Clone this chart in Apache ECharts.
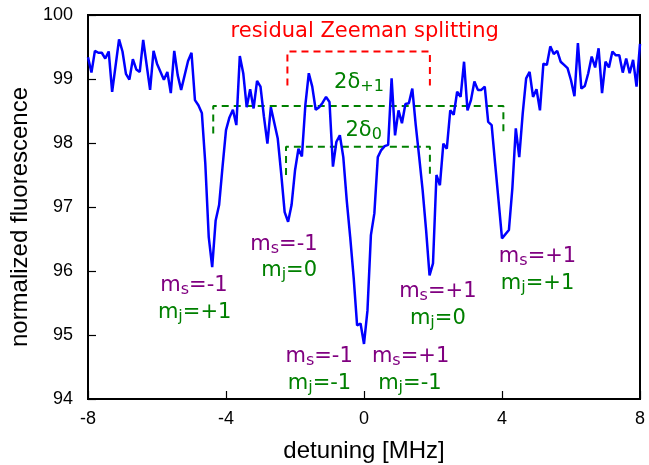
<!DOCTYPE html>
<html>
<head>
<meta charset="utf-8">
<script src="https://cdn.jsdelivr.net/npm/echarts@6/dist/echarts.min.js"></script>
<style>
  html, body { margin: 0; padding: 0; background: #fff; }
  #chart { width: 649px; height: 465px; }
</style>
</head>
<body>
<div id="chart"></div>
<script>
// Fluorescence scan across the hyperfine dips (detuning in MHz)
const detuning = [
  -8.0, -7.9, -7.8, -7.7, -7.6, -7.5, -7.4, -7.3, -7.1, -7.0, -6.9, -6.8, -6.7, -6.6, -6.5, -6.4,
  -6.2, -6.1, -6.0, -5.8, -5.7, -5.6, -5.5, -5.4, -5.3, -5.1, -5.0, -4.9, -4.8, -4.7, -4.6, -4.5,
  -4.4, -4.3, -4.2, -4.1, -4.0, -3.9, -3.8, -3.7, -3.6, -3.5, -3.4, -3.3, -3.2, -3.1, -3.0, -2.9,
  -2.8, -2.7, -2.5, -2.4, -2.3, -2.2, -2.1, -2.0, -1.9, -1.8, -1.7, -1.6, -1.5, -1.4, -1.3, -1.2,
  -1.1, -1.0, -0.9, -0.8, -0.7, -0.6, -0.5, -0.4, -0.3, -0.2, -0.1, 0.0, 0.1, 0.2, 0.3, 0.4,
  0.5, 0.6, 0.7, 0.8, 0.9, 1.0, 1.1, 1.2, 1.3, 1.4, 1.5, 1.6, 1.7, 1.8, 1.9, 2.0,
  2.1, 2.2, 2.3, 2.4, 2.5, 2.6, 2.7, 2.8, 2.9, 3.0, 3.1, 3.2, 3.3, 3.4, 3.5, 3.6,
  3.7, 3.8, 3.9, 4.0, 4.2, 4.3, 4.4, 4.5, 4.6, 4.7, 4.8, 4.9, 5.0, 5.1, 5.2, 5.3,
  5.4, 5.5, 5.6, 5.7, 5.8, 5.9, 6.0, 6.1, 6.2, 6.3, 6.4, 6.5, 6.6, 6.7, 6.8, 6.9,
  7.0, 7.1, 7.2, 7.3, 7.4, 7.5, 7.6, 7.7, 7.8, 7.9, 8.0
];
const fluorescence = [
  99.34, 99.10, 99.44, 99.41, 99.41, 99.32, 99.43, 98.80, 99.62, 99.43, 99.08, 98.99, 99.31, 99.15, 99.11, 99.61,
  98.83, 99.44, 99.24, 98.99, 99.11, 98.78, 99.44, 99.06, 98.83, 99.28, 99.41, 98.67, 98.59, 98.47, 97.68, 96.53,
  96.06, 96.79, 97.03, 97.63, 98.20, 98.40, 98.52, 98.28, 99.36, 99.09, 98.56, 98.84, 98.54, 98.97, 98.88, 98.41,
  97.99, 98.56, 98.07, 97.52, 96.92, 96.77, 97.03, 97.57, 97.91, 97.79, 98.59, 99.09, 98.88, 98.52, 98.56, 98.63,
  98.72, 98.64, 97.63, 98.02, 98.12, 97.78, 97.10, 96.53, 95.90, 95.15, 95.18, 94.86, 95.38, 96.56, 96.90, 97.78,
  97.89, 97.95, 97.97, 99.01, 98.12, 98.51, 98.31, 98.61, 98.62, 98.85, 98.28, 97.78, 97.26, 96.64, 95.93, 96.12,
  97.50, 97.34, 97.99, 97.91, 98.51, 98.44, 98.80, 98.72, 99.27, 98.51, 98.67, 98.96, 98.83, 98.83, 98.88, 98.33,
  98.28, 97.68, 97.10, 96.51, 96.64, 97.29, 98.23, 97.78, 98.46, 99.01, 99.11, 98.72, 98.84, 98.51, 99.24, 99.22,
  99.51, 99.39, 99.44, 99.27, 99.22, 99.17, 98.98, 98.73, 99.56, 98.85, 98.89, 99.09, 99.35, 99.18, 99.48, 98.78,
  99.27, 99.18, 99.43, 99.37, 99.37, 99.10, 99.32, 99.09, 99.30, 98.88, 99.55
];

// Splitting brackets: [left dip, right dip] detuning, bar level, foot level
const zeemanSplit = [-2.22, 1.91];
const zeemanLevels = [99.43, 98.90];
const delta1Split = [-4.37, 4.04];
const delta1Levels = [98.58, 98.15];
const delta0Split = [-2.26, 1.91];
const delta0Levels = [97.94, 97.50];

// Axis ranges and ticks
const xRange = [-8, 8];
const xStep = 4;
const yRange = [94, 100];
const yStep = 1;

const RED = '#ff0000';
const GREEN = '#008000';
const PURPLE = '#800080';
const BLUE = '#0000ff';

// Text annotations anchored in data coordinates
const annotations = [
  { text: '{n|residual Zeeman splitting}', at: [0.02, 99.74], color: RED },
  { text: '{n|2δ}{s|+1}', at: [-0.145, 98.94], color: GREEN },
  { text: '{n|2δ}{s|0}', at: [-0.01, 98.20], color: GREEN },
  { text: '{n|m}{s|s}{n|=-1}', at: [-4.93, 95.77], color: PURPLE },
  { text: '{n|m}{s|j}{n|=+1}', at: [-4.91, 95.35], color: GREEN },
  { text: '{n|m}{s|s}{n|=-1}', at: [-2.32, 96.42], color: PURPLE },
  { text: '{n|m}{s|j}{n|=0}', at: [-2.17, 96.01], color: GREEN },
  { text: '{n|m}{s|s}{n|=-1}', at: [-1.30, 94.66], color: PURPLE },
  { text: '{n|m}{s|j}{n|=-1}', at: [-1.29, 94.24], color: GREEN },
  { text: '{n|m}{s|s}{n|=+1}', at: [1.35, 94.66], color: PURPLE },
  { text: '{n|m}{s|j}{n|=-1}', at: [1.33, 94.24], color: GREEN },
  { text: '{n|m}{s|s}{n|=+1}', at: [2.14, 95.68], color: PURPLE },
  { text: '{n|m}{s|j}{n|=0}', at: [2.14, 95.26], color: GREEN },
  { text: '{n|m}{s|s}{n|=+1}', at: [5.03, 96.23], color: PURPLE },
  { text: '{n|m}{s|j}{n|=+1}', at: [5.03, 95.81], color: GREEN }
];

const AXIS_FONT = '"Liberation Sans", Arial, sans-serif';
const ANN_FONT = '"DejaVu Sans", sans-serif';

function bracket(split, levels) {
  return [
    [split[0], levels[1]], [split[0], levels[0]],
    [split[1], levels[0]], [split[1], levels[1]]
  ];
}

function dashedSeries(points, color) {
  return {
    type: 'line',
    data: points,
    symbol: 'none',
    silent: true,
    z: 2,
    lineStyle: { color: color, width: 2, type: [7, 5] }
  };
}

const chart = echarts.init(document.getElementById('chart'));

chart.setOption({
  animation: false,
  backgroundColor: '#fff',
  grid: {
    left: 88, right: 9, top: 15, bottom: 66,
    outerBoundsMode: 'none',
    show: true, borderColor: '#000', borderWidth: 2, backgroundColor: 'transparent'
  },
  xAxis: {
    type: 'value',
    min: xRange[0], max: xRange[1], interval: xStep,
    axisLine: { show: true, onZero: false, lineStyle: { color: '#000', width: 2 } },
    axisTick: { show: true, inside: true, length: 8, lineStyle: { color: '#000', width: 1.2 } },
    splitLine: { show: false },
    axisLabel: { color: '#000', fontFamily: AXIS_FONT, fontSize: 18, margin: 11 },
    name: 'detuning [MHz]',
    nameLocation: 'middle',
    nameGap: 40,
    nameTextStyle: { color: '#000', fontFamily: AXIS_FONT, fontSize: 24 }
  },
  yAxis: {
    type: 'value',
    min: yRange[0], max: yRange[1], interval: yStep,
    axisLine: { show: true, onZero: false, lineStyle: { color: '#000', width: 2 } },
    axisTick: { show: true, inside: true, length: 8, lineStyle: { color: '#000', width: 1.2 } },
    splitLine: { show: false },
    axisLabel: { color: '#000', fontFamily: AXIS_FONT, fontSize: 18, margin: 15 },
    name: 'normalized fluorescence',
    nameLocation: 'middle',
    nameGap: 55,
    nameRotate: 90,
    nameTextStyle: { color: '#000', fontFamily: AXIS_FONT, fontSize: 24, padding: [0, 20, 0, 0] }
  },
  series: [
    dashedSeries(bracket(zeemanSplit, zeemanLevels), RED),
    dashedSeries(bracket(delta1Split, delta1Levels), GREEN),
    dashedSeries(bracket(delta0Split, delta0Levels), GREEN),
    {
      type: 'line',
      data: detuning.map((x, i) => [x, fluorescence[i]]),
      symbol: 'none',
      z: 3,
      lineStyle: { color: BLUE, width: 2.5 }
    },
    {
      type: 'scatter',
      symbolSize: 0,
      silent: true,
      z: 4,
      itemStyle: { opacity: 1 },
      data: annotations.map(a => ({
        value: a.at,
        label: { color: a.color, formatter: a.text }
      })),
      label: {
        show: true,
        position: 'inside',
        opacity: 1,
        rich: {
          n: { fontFamily: ANN_FONT, fontSize: 21, lineHeight: 25 },
          s: { fontFamily: ANN_FONT, fontSize: 16, lineHeight: 15, verticalAlign: 'bottom' }
        }
      }
    }
  ]
});
</script>
</body>
</html>
